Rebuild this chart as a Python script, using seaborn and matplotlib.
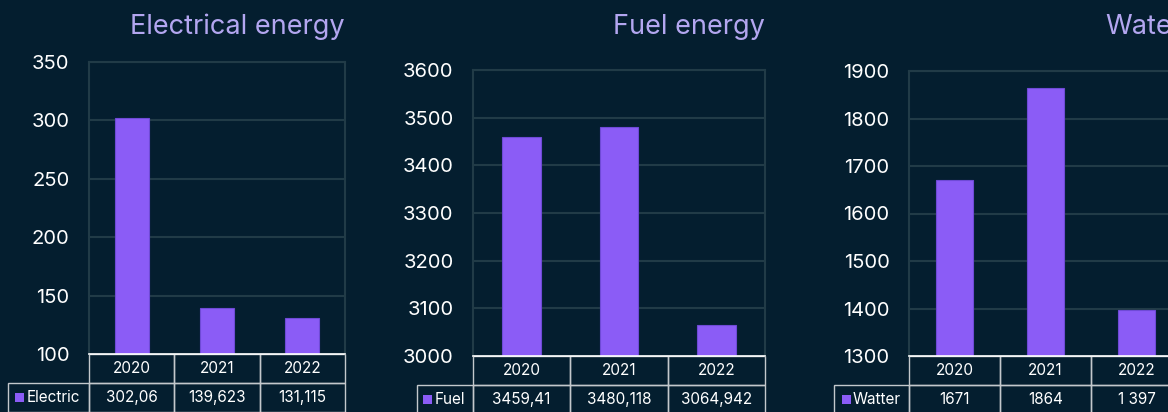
import matplotlib
matplotlib.use('Agg')
import numpy as np
import pandas as pd
import matplotlib.pyplot as plt
import matplotlib.transforms as mtransforms
from matplotlib.patches import Rectangle
from matplotlib.table import Table
import seaborn as sns

# Data
years = ['2020', '2021', '2022']
electric = [302.06, 139.623, 131.115]
fuel = [3459.41, 3480.118, 3064.942]
water = [1671, 1864, 1397]
electric_labels = ['302,06', '139,623', '131,115']
fuel_labels = ['3459,41', '3480,118', '3064,942']
water_labels = ['1671', '1864', '1 397']

# Colours
BG = '#041e2f'
BAR = '#8b5cf6'
BAR_EDGE = '#6f4ad6'
GRID = '#213b47'
TITLE = '#b3a6f0'
CELL_EDGE = '#c3c8cc'

plt.rcParams['font.family'] = ['Inter', 'DejaVu Sans']

W, H = 1168, 412
fig = plt.figure(figsize=(W / 100, H / 100), dpi=100, facecolor=BG)

# layout in pixels: (left, top, right, bottom) of plot area, left edge of row label cell
panels = [
    dict(title='Electrical energy', series='Electric', values=electric, labels=electric_labels,
         ylim=(100, 350), step=50, box=(89, 62, 345, 354), label_left=8, sq=7, txt=19),
    dict(title='Fuel energy', series='Fuel', values=fuel, labels=fuel_labels,
         ylim=(3000, 3600), step=100, box=(473, 70, 765, 356), label_left=417, sq=6, txt=18),
    dict(title='Water', series='Watter', values=water, labels=water_labels,
         ylim=(1300, 1900), step=100, box=(909, 71, 1182, 356), label_left=834, sq=8, txt=19),
]

ROW_PX = 29

for p in panels:
    l, t, r, b = p['box']
    aw, ah = r - l, b - t
    ax = fig.add_axes([l / W, 1 - b / H, aw / W, ah / H])
    ax.set_facecolor(BG)

    df = pd.DataFrame({'year': years, 'value': p['values']})
    sns.barplot(data=df, x='year', y='value', color=BAR, saturation=1, width=0.4,
                errorbar=None, edgecolor=BAR_EDGE, linewidth=0.8, ax=ax)

    ax.set_ylim(*p['ylim'])
    ax.set_yticks(np.arange(p['ylim'][0], p['ylim'][1] + 1, p['step']))
    ax.set_xlim(-0.5, 2.5)
    ax.set_xticks([])
    ax.set_xlabel('')
    ax.set_ylabel('')
    ax.grid(axis='y', color=GRID, linewidth=1.5)
    ax.set_axisbelow(True)
    ax.tick_params(axis='y', length=0, pad=14, labelsize=14.5, labelcolor='white')
    for side in ['left', 'right', 'top']:
        ax.spines[side].set_color(GRID)
        ax.spines[side].set_linewidth(1.5)
    ax.spines['bottom'].set_color('white')
    ax.spines['bottom'].set_linewidth(1.2)

    # title, right aligned to the plot area
    trans = mtransforms.blended_transform_factory(ax.transAxes, fig.transFigure)
    ax.text(1, 1 - 34 / H, p['title'], transform=trans, ha='right', va='baseline',
            fontsize=19.5, color=TITLE)

    # data table under the plot (bbox covers the data cells, row label sits left of it)
    rh = ROW_PX / ah
    lw = (l - p['label_left']) / aw
    tbl = Table(ax, bbox=[0, -2 * rh, 1, 2 * rh])
    for j, y in enumerate(years):
        c = tbl.add_cell(0, j, 1 / 3, rh, text=y, loc='center',
                         facecolor='none', edgecolor=CELL_EDGE)
        c.get_text().set_color('white')
    for j, s in enumerate(p['labels']):
        c = tbl.add_cell(1, j, 1 / 3, rh, text=s, loc='center',
                         facecolor='none', edgecolor=CELL_EDGE)
        c.get_text().set_color('white')
    tbl.add_cell(1, -1, lw, rh, text='', facecolor='none', edgecolor=CELL_EDGE)
    tbl.auto_set_font_size(False)
    tbl.set_fontsize(11)
    for c in tbl.get_celld().values():
        c.set_linewidth(1.0)
    ax.add_table(tbl)

    # legend key + series name in the row label cell
    x0 = (p['label_left'] + p['sq'] - l) / aw
    ax.add_patch(Rectangle((x0, -1.5 * rh - 4.5 / ah), 9 / aw, 9 / ah, transform=ax.transAxes,
                           facecolor=BAR, edgecolor='none', clip_on=False))
    ax.text((p['label_left'] + p['txt'] - l) / aw, -1.5 * rh, p['series'], transform=ax.transAxes,
            ha='left', va='center', fontsize=11, color='white')

fig.savefig('out.png', dpi=100, facecolor=BG)
